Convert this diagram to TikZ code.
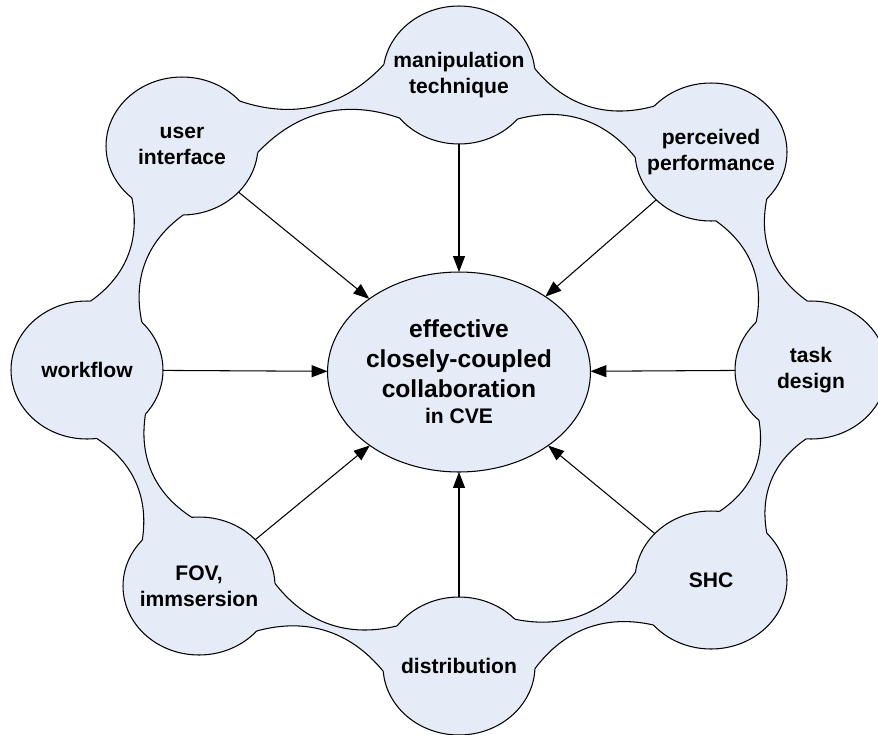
\documentclass[tikz,border=0pt]{standalone}
\usepackage{fontspec}
\setmainfont{Liberation Sans}
\usetikzlibrary{arrows.meta, shapes.geometric}
\definecolor{blobfill}{RGB}{230,236,247}
\tikzset{
  ring/.style={ellipse, draw, fill=blobfill, line width=0.6pt, minimum width=3.04cm, minimum height=2.76cm, inner sep=0pt, outer sep=0pt},
  rlab/.style={font=\fontsize{12}{14.5}\selectfont\bfseries, align=center, inner sep=0pt},
  hub/.style={ellipse, draw, fill=blobfill, line width=0.6pt, minimum width=4.92cm, minimum height=4cm, inner sep=0pt, outer sep=0pt, font=\fontsize{14}{17}\selectfont\bfseries, align=center},
  neckline/.style={line width=0.6pt},
  infl/.style={-{Triangle[length=3.2mm, width=2.4mm]}, line width=0.6pt}
}
% neck between two ring nodes: #1 -> #2 clockwise, outer/inner anchors
\newcommand{\ringneck}[6]{%
  \fill[blobfill] (#1.#3) to[bend right=33] (#2.#5) -- (#2.center) -- (#2.#6) to[bend right=33] (#1.#4) -- (#1.center) -- cycle;
  \draw[neckline] (#1.#3) to[bend right=33] (#2.#5);
  \draw[neckline] (#1.#4) to[bend left=33] (#2.#6);}

\begin{document}
\begin{tikzpicture}[x=0.02cm, y=0.02cm]
		\useasboundingbox (0,0) rectangle (878,-734);
		% ring of factors
		\node[ring] (ui) at (182,-146) {};
		\node[ring] (mt) at (459,-75) {};
		\node[ring] (pp) at (711,-152) {};
		\node[ring] (td) at (811,-370) {};
		\node[ring] (sh) at (711,-580) {};
		\node[ring] (di) at (459,-666) {};
		\node[ring] (fv) at (199,-586) {};
		\node[ring] (wf) at (87,-370) {};
		% necks
		\ringneck{ui}{mt}{38}{-5}{172}{216}
		\ringneck{mt}{pp}{5}{-37}{141}{184}
		\ringneck{pp}{td}{-40}{-86}{93}{139}
		\ringneck{td}{sh}{266}{224}{40}{83}
		\ringneck{sh}{di}{218}{174}{-2}{40}
		\ringneck{di}{fv}{184}{147}{-38}{2}
		\ringneck{fv}{wf}{141}{96}{-82}{-37}
		\ringneck{wf}{ui}{87}{41}{226}{-89}
		% labels
		\node[rlab] (uiL) at (ui) {user\\interface};
		\node[rlab] (mtL) at (mt) {manipulation\\technique};
		\node[rlab] (ppL) at (pp) {perceived\\performance};
		\node[rlab] (tdL) at (td) {task\\design};
		\node[rlab] (shL) at (sh) {SHC};
		\node[rlab] (diL) at (di) {distribution};
		\node[rlab] (fvL) at (fv) {FOV,\\immsersion};
		\node[rlab] (wfL) at (wf) {workflow};
		% centre
		\node[hub] (cve) at (459,-372) {effective\\closely-coupled\\collaboration\\[-2pt]{\fontsize{12}{14}\selectfont in CVE}};
		\foreach \f in {ui,mt,pp,td,sh,di,fv,wf}
			\draw[infl] (\f) -- (cve);
	\end{tikzpicture}
\end{document}
